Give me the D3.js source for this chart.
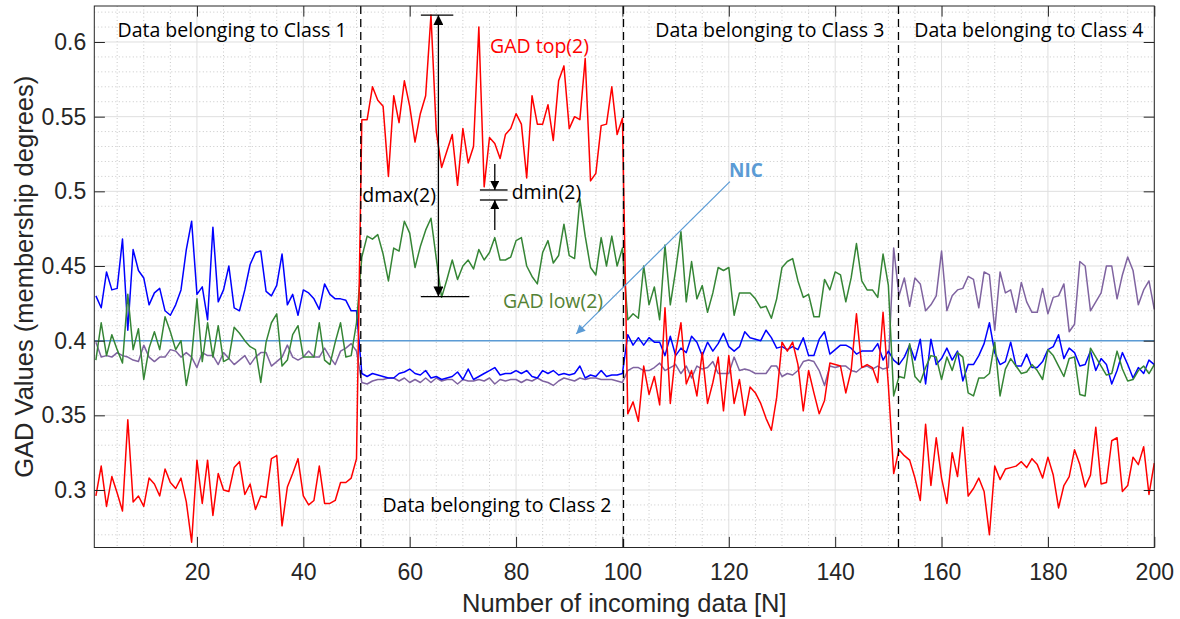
<!DOCTYPE html>
<html lang="en">
<head>
<meta charset="UTF-8">
<title>GAD values per incoming sample</title>
<script src="https://d3js.org/d3.v7.min.js"></script>
<style>
    body { margin: 0; background: #ffffff; }
    .axis text { font-family: 'Liberation Sans', Arial, sans-serif; font-size: 23px; fill: #262626; }
    .axis line { stroke: #262626; }
    .axis path { display: none; }
    .axis-label { font-family: 'Liberation Sans', Arial, sans-serif; font-size: 25.5px; fill: #262626; }
    .note { font-family: 'Open Sans', sans-serif; font-size: 19.5px; }
</style>
</head>
<body>
<svg id="chart"></svg>
<script>
// sample index 1..200
const N = d3.range(1, 201);

// blue
const gad1 = [0.430,0.422,0.446,0.434,0.435,0.468,0.407,0.461,0.447,0.442,0.424,0.432,0.435,0.420,0.417,0.424,0.434,0.461,0.480,0.431,0.436,0.414,0.476,0.426,0.434,
    0.450,0.422,0.420,0.434,0.451,0.459,0.460,0.433,0.430,0.437,0.458,0.424,0.431,0.417,0.434,0.432,0.428,0.421,0.438,0.431,0.428,0.428,0.427,0.420,0.420,
    0.378,0.376,0.378,0.377,0.376,0.375,0.375,0.378,0.379,0.381,0.378,0.377,0.380,0.375,0.376,0.374,0.375,0.376,0.379,0.374,0.381,0.374,0.376,
    0.378,0.380,0.382,0.377,0.378,0.378,0.380,0.378,0.380,0.376,0.375,0.380,0.378,0.380,0.377,0.378,0.377,0.378,0.383,0.375,0.377,0.376,0.380,0.376,0.377,0.377,0.378,
    0.404,0.397,0.402,0.397,0.402,0.399,0.399,0.390,0.403,0.390,0.395,0.392,0.403,0.399,0.390,0.399,0.393,0.398,0.405,0.396,0.393,0.396,0.406,0.402,0.401,
    0.400,0.407,0.402,0.395,0.396,0.394,0.396,0.394,0.402,0.390,0.390,0.401,0.406,0.391,0.394,0.397,0.397,0.395,0.391,0.393,0.393,0.393,0.398,0.387,0.393,
    0.387,0.384,0.389,0.397,0.387,0.401,0.371,0.401,0.384,0.388,0.395,0.387,0.393,0.373,0.384,0.384,0.390,0.398,0.412,0.392,0.384,
    0.386,0.399,0.383,0.383,0.391,0.382,0.382,0.386,0.394,0.396,0.404,0.388,0.395,0.392,0.383,0.384,0.393,0.380,0.388,0.384,0.371,0.380,0.392,0.384,0.375,0.382,0.378,0.387,0.384];

// red (GAD top in class 2)
const gad2 = [0.296,0.316,0.289,0.309,0.298,0.286,0.347,0.292,0.296,0.289,0.308,0.304,0.296,0.314,0.305,0.301,0.308,0.292,0.265,0.320,0.291,0.320,0.283,0.311,0.300,
    0.299,0.315,0.319,0.297,0.304,0.287,0.296,0.295,0.321,0.323,0.276,0.302,0.311,0.321,0.296,0.290,0.293,0.316,0.291,0.291,0.293,0.305,0.305,0.308,0.321,
    0.548,0.548,0.570,0.561,0.557,0.510,0.564,0.546,0.574,0.557,0.533,0.552,0.564,0.618,0.540,0.516,0.527,0.538,0.504,0.542,0.519,0.530,0.610,
    0.503,0.536,0.532,0.522,0.538,0.542,0.552,0.545,0.509,0.564,0.545,0.545,0.558,0.534,0.574,0.584,0.542,0.550,0.548,0.589,0.507,0.512,0.544,0.545,0.570,0.538,0.549,
    0.351,0.359,0.346,0.383,0.364,0.376,0.357,0.422,0.358,0.392,0.412,0.371,0.380,0.363,0.392,0.358,0.372,0.389,0.353,0.390,0.358,0.374,0.350,0.369,0.365,
    0.358,0.348,0.340,0.362,0.399,0.393,0.399,0.384,0.353,0.380,0.365,0.351,0.360,0.385,0.384,0.383,0.365,0.380,0.418,0.382,0.384,0.382,0.372,0.419,0.370,
    0.311,0.327,0.323,0.320,0.308,0.293,0.344,0.303,0.335,0.308,0.291,0.325,0.309,0.342,0.296,0.301,0.308,0.299,0.270,0.316,0.307,
    0.314,0.315,0.316,0.319,0.315,0.321,0.317,0.308,0.322,0.310,0.288,0.303,0.309,0.327,0.317,0.302,0.310,0.342,0.304,0.305,0.333,0.335,0.299,0.303,0.322,0.317,0.329,0.297,0.318];

// green (GAD low in class 2)
const gad3 = [0.387,0.412,0.390,0.404,0.394,0.385,0.431,0.394,0.408,0.374,0.395,0.406,0.394,0.416,0.406,0.394,0.400,0.370,0.389,0.428,0.386,0.412,0.389,0.410,0.386,
    0.388,0.409,0.405,0.400,0.396,0.394,0.372,0.399,0.412,0.418,0.383,0.387,0.404,0.410,0.389,0.389,0.389,0.412,0.387,0.384,0.399,0.412,0.389,0.390,0.412,
    0.456,0.470,0.468,0.471,0.458,0.440,0.462,0.460,0.480,0.472,0.449,0.463,0.474,0.482,0.455,0.429,0.441,0.454,0.441,0.450,0.454,0.448,0.461,
    0.454,0.459,0.469,0.454,0.454,0.456,0.467,0.469,0.450,0.443,0.438,0.459,0.467,0.452,0.457,0.478,0.457,0.455,0.495,0.470,0.449,0.444,0.469,0.450,0.470,0.450,0.462,
    0.414,0.418,0.415,0.450,0.424,0.436,0.414,0.464,0.424,0.447,0.473,0.426,0.453,0.428,0.437,0.419,0.432,0.449,0.447,0.449,0.417,0.432,0.432,0.432,0.428,
    0.422,0.423,0.415,0.428,0.449,0.453,0.455,0.440,0.429,0.431,0.416,0.416,0.441,0.434,0.446,0.444,0.426,0.442,0.465,0.440,0.434,0.434,0.429,0.458,0.437,
    0.363,0.376,0.375,0.398,0.376,0.372,0.382,0.390,0.389,0.374,0.389,0.380,0.392,0.389,0.365,0.363,0.375,0.375,0.378,0.399,0.363,
    0.381,0.388,0.383,0.378,0.379,0.384,0.380,0.374,0.394,0.390,0.383,0.376,0.388,0.389,0.364,0.363,0.395,0.389,0.383,0.377,0.378,0.393,0.381,0.373,0.374,0.380,0.383,0.378,0.384];

// purple
const gad4 = [0.399,0.389,0.390,0.389,0.392,0.390,0.389,0.387,0.386,0.397,0.389,0.386,0.389,0.389,0.394,0.393,0.389,0.392,0.389,0.382,0.392,0.390,0.390,0.384,0.392,
    0.388,0.384,0.387,0.390,0.384,0.389,0.392,0.392,0.383,0.386,0.389,0.397,0.389,0.387,0.389,0.393,0.389,0.389,0.395,0.389,0.384,0.393,0.395,0.398,0.393,
    0.372,0.371,0.373,0.374,0.374,0.375,0.375,0.373,0.375,0.372,0.374,0.372,0.375,0.372,0.375,0.373,0.374,0.374,0.371,0.374,0.373,0.373,0.374,
    0.373,0.375,0.371,0.374,0.373,0.374,0.374,0.372,0.374,0.373,0.375,0.373,0.372,0.370,0.373,0.375,0.374,0.373,0.375,0.374,0.375,0.375,0.374,0.374,0.374,0.373,0.372,
    0.380,0.382,0.382,0.380,0.380,0.382,0.385,0.380,0.382,0.384,0.378,0.383,0.375,0.383,0.381,0.382,0.386,0.378,0.378,0.378,0.389,0.380,0.381,0.380,0.378,
    0.378,0.378,0.383,0.383,0.376,0.378,0.377,0.380,0.386,0.387,0.386,0.380,0.370,0.383,0.382,0.383,0.383,0.380,0.379,0.382,0.383,0.381,0.383,0.381,0.382,
    0.462,0.430,0.442,0.423,0.442,0.438,0.420,0.424,0.430,0.460,0.420,0.430,0.434,0.435,0.443,0.441,0.422,0.446,0.444,0.407,0.446,
    0.432,0.434,0.419,0.439,0.426,0.419,0.419,0.435,0.418,0.429,0.430,0.438,0.406,0.411,0.453,0.450,0.420,0.426,0.432,0.450,0.450,0.428,0.444,0.456,0.447,0.424,0.434,0.440,0.421];

const nicLevel = 0.4;
const classEdges = [50.8, 100.2, 151.9];
const classNames = ["Data belonging to Class 1", "Data belonging to Class 2", "Data belonging to Class 3", "Data belonging to Class 4"];
const xTicks = [20, 40, 60, 80, 100, 120, 140, 160, 180, 200];
const yTicks = [0.3, 0.35, 0.4, 0.45, 0.5, 0.55, 0.6];

const margin = {top: 6, right: 25.7, bottom: 71.5, left: 94.3};
const width = 1180 - margin.left - margin.right;
const height = 619 - margin.top - margin.bottom;

const svg = d3.select("#chart")
    .attr("width", 1180)
    .attr("height", 619);

const g = svg.append("g")
    .attr("transform", `translate(${margin.left},${margin.top})`);

const x = d3.scaleLinear().domain([0.7, 200]).range([0, width]);
const y = d3.scaleLinear().domain([0.2615, 0.6241]).range([height, 0]);

// grid: dotted minor, solid major
const minorX = d3.range(5, 200, 5).filter(v => v % 20 !== 0);
const minorY = d3.range(27, 63).filter(v => v % 5 !== 0).map(v => v / 100);

g.selectAll(".gx-minor").data(minorX).enter().append("line")
    .attr("x1", d => x(d)).attr("x2", d => x(d))
    .attr("y1", 0).attr("y2", height)
    .attr("stroke", "#c8c8c8").attr("stroke-dasharray", "1,2.5");
g.selectAll(".gy-minor").data(minorY).enter().append("line")
    .attr("x1", 0).attr("x2", width)
    .attr("y1", d => y(d)).attr("y2", d => y(d))
    .attr("stroke", "#c8c8c8").attr("stroke-dasharray", "1,2.5");
g.selectAll(".gx-major").data(xTicks).enter().append("line")
    .attr("x1", d => x(d)).attr("x2", d => x(d))
    .attr("y1", 0).attr("y2", height)
    .attr("stroke", "#dfdfdf");
g.selectAll(".gy-major").data(yTicks).enter().append("line")
    .attr("x1", 0).attr("x2", width)
    .attr("y1", d => y(d)).attr("y2", d => y(d))
    .attr("stroke", "#dfdfdf");

// NIC level
g.append("line")
    .attr("x1", 0).attr("x2", width)
    .attr("y1", y(nicLevel)).attr("y2", y(nicLevel))
    .attr("stroke", "#5b9bd5").attr("stroke-width", 1.5);

// series
const line = d3.line()
    .x((d, i) => x(N[i]))
    .y(d => y(d));

const series = [
    {values: gad4, color: "#7f63a0"},
    {values: gad1, color: "#0000ff"},
    {values: gad3, color: "#358535"},
    {values: gad2, color: "#ff0000"}
];

series.forEach(s => {
    g.append("path")
        .datum(s.values)
        .attr("fill", "none")
        .attr("stroke", s.color)
        .attr("stroke-width", 1.5)
        .attr("stroke-linejoin", "round")
        .attr("d", line);
});

// class boundaries
g.selectAll(".edge").data(classEdges).enter().append("line")
    .attr("x1", d => x(d)).attr("x2", d => x(d))
    .attr("y1", 0).attr("y2", height)
    .attr("stroke", "#000").attr("stroke-width", 1.3)
    .attr("stroke-dasharray", "8,5");

// axes, ticks inside on all four sides
const tick = 10.6;
g.append("g")
    .attr("class", "axis")
    .attr("transform", `translate(0,${height})`)
    .call(d3.axisBottom(x).tickValues(xTicks).tickSizeInner(-tick).tickSizeOuter(0).tickPadding(16));
g.append("g")
    .attr("class", "axis")
    .call(d3.axisLeft(y).tickValues(yTicks).tickSizeInner(-tick).tickSizeOuter(0).tickPadding(8).tickFormat(d3.format("")));
g.append("g")
    .attr("class", "axis")
    .call(d3.axisTop(x).tickValues(xTicks).tickSizeInner(-tick).tickSizeOuter(0).tickFormat(""));
g.append("g")
    .attr("class", "axis")
    .attr("transform", `translate(${width},0)`)
    .call(d3.axisRight(y).tickValues(yTicks).tickSizeInner(-tick).tickSizeOuter(0).tickFormat(""));

g.append("rect")
    .attr("width", width).attr("height", height)
    .attr("fill", "none").attr("stroke", "#262626").attr("stroke-width", 1);

// axis labels
svg.append("text")
    .attr("class", "axis-label")
    .attr("x", margin.left + width / 2)
    .attr("y", 611.5)
    .attr("text-anchor", "middle")
    .text("Number of incoming data [N]");

svg.append("text")
    .attr("class", "axis-label")
    .attr("transform", `translate(33,${margin.top + height / 2}) rotate(-90)`)
    .attr("text-anchor", "middle")
    .text("GAD Values (membership degrees)");

// class labels
const classCenters = [26.6, 76.4, 127.7, 176.4];
g.selectAll(".class-label").data(classNames).enter().append("text")
    .attr("class", "note")
    .attr("x", (d, i) => x(classCenters[i]))
    .attr("y", (d, i) => i === 1 ? 506 : 31)
    .attr("text-anchor", "middle")
    .attr("fill", "#000")
    .text(d => d);

// arrow markers
const defs = svg.append("defs");
function marker(id, color, w, h) {
    defs.append("marker")
        .attr("id", id)
        .attr("viewBox", "0 0 10 10")
        .attr("refX", 10).attr("refY", 5)
        .attr("markerUnits", "userSpaceOnUse")
        .attr("markerWidth", w).attr("markerHeight", h)
        .attr("orient", "auto-start-reverse")
        .append("path")
        .attr("d", "M0,0 L10,5 L0,10 Z")
        .attr("fill", color);
}
marker("blackHead", "#000", 14, 10);
marker("smallHead", "#000", 13, 9);
marker("blueHead", "#5b9bd5", 13, 9);

// dmax(2)
const dmaxN = 65.4, dmaxTop = 0.618, dmaxBot = 0.4295;
g.append("line")
    .attr("x1", x(62.1)).attr("x2", x(68.2))
    .attr("y1", y(dmaxTop)).attr("y2", y(dmaxTop))
    .attr("stroke", "#000").attr("stroke-width", 1.3);
g.append("line")
    .attr("x1", x(62.1)).attr("x2", x(71.2))
    .attr("y1", y(dmaxBot)).attr("y2", y(dmaxBot))
    .attr("stroke", "#000").attr("stroke-width", 1.3);
g.append("line")
    .attr("x1", x(dmaxN)).attr("x2", x(dmaxN))
    .attr("y1", y(dmaxTop)).attr("y2", y(dmaxBot))
    .attr("stroke", "#000").attr("stroke-width", 1.3)
    .attr("marker-start", "url(#blackHead)")
    .attr("marker-end", "url(#blackHead)");

// dmin(2)
const dminN = 76.0, dminTop = 0.5009, dminBot = 0.4942;
[dminTop, dminBot].forEach(v => {
    g.append("line")
        .attr("x1", x(73.2)).attr("x2", x(78.4))
        .attr("y1", y(v)).attr("y2", y(v))
        .attr("stroke", "#000").attr("stroke-width", 1.3);
});
g.append("line")
    .attr("x1", x(dminN)).attr("x2", x(dminN))
    .attr("y1", y(0.5183)).attr("y2", y(dminTop))
    .attr("stroke", "#000").attr("stroke-width", 1.3)
    .attr("marker-end", "url(#smallHead)");
g.append("line")
    .attr("x1", x(dminN)).attr("x2", x(dminN))
    .attr("y1", y(0.4741)).attr("y2", y(dminBot))
    .attr("stroke", "#000").attr("stroke-width", 1.3)
    .attr("marker-end", "url(#smallHead)");

// NIC pointer
g.append("line")
    .attr("x1", x(120.2)).attr("y1", y(0.5065))
    .attr("x2", x(91.3)).attr("y2", y(0.4045))
    .attr("stroke", "#5b9bd5").attr("stroke-width", 1.2)
    .attr("marker-end", "url(#blueHead)");

// text notes
g.append("text").attr("class", "note").attr("x", 395.7).attr("y", 47)
    .attr("fill", "#ff0000").text("GAD top(2)");
g.append("text").attr("class", "note").attr("x", 408.7).attr("y", 302)
    .attr("fill", "#548235").text("GAD low(2)");
g.append("text").attr("class", "note").attr("x", 268).attr("y", 196)
    .attr("fill", "#000").text("dmax(2)");
g.append("text").attr("class", "note").attr("x", 417.4).attr("y", 193)
    .attr("fill", "#000").text("dmin(2)");
g.append("text").attr("class", "note").attr("x", 634.7).attr("y", 171)
    .attr("fill", "#5b9bd5").style("font-weight", "bold").style("font-size", "19px").text("NIC");
</script>
</body>
</html>
